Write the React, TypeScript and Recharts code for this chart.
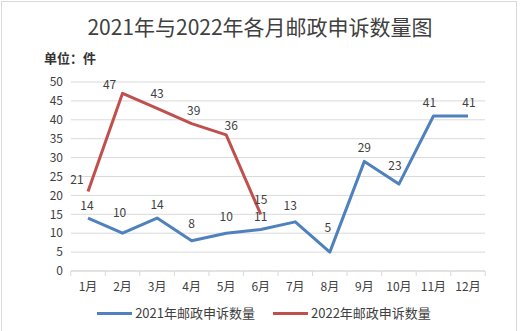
import { CartesianGrid, LabelList, Legend, Line, LineChart, XAxis, YAxis } from "recharts";

const months = ["1月", "2月", "3月", "4月", "5月", "6月", "7月", "8月", "9月", "10月", "11月", "12月"];
const complaints2021 = [14, 10, 14, 8, 10, 11, 13, 5, 29, 23, 41, 41];
const complaints2022 = [21, 47, 43, 39, 36, 15];
const yTicks = [0, 5, 10, 15, 20, 25, 30, 35, 40, 45, 50];

const title = "2021年与2022年各月邮政申诉数量图";
const unitLabel = "单位：件";
const name2021 = "2021年邮政申诉数量";
const name2022 = "2022年邮政申诉数量";

const BLUE = "#4f81bd";
const RED = "#c0504d";
const GRID = "#d9d9d9";
const FONT = '"Noto Sans CJK SC", "Noto Sans", sans-serif';

// label nudges (dx, and how far the label centre sits above the point)
const dx2021 = [-1, -3, 0, 0, 0, 0, -5, -2, 0, -4, -4, 1];
const lift2021 = [12, 20, 13, 17, 16, 12, 16, 24, 13, 18, 13, 13];
const dx2022 = [-11, -13, 0, 2, 5, 0];
const lift2022 = [12, 8, 14, 13, 9, 14];

const data = months.map((m, i) => ({
  month: m,
  y2021: complaints2021[i],
  y2022: i < complaints2022.length ? complaints2022[i] : null,
}));

const BAND = 34.5;

const XTick = (props: any) => {
  const { x, y, payload, index } = props;
  const h = BAND / 2;
  return (
    <g>
      <line x1={x - h} x2={x - h} y1={y - 8} y2={y - 3} stroke={GRID} />
      {index === months.length - 1 && (
        <line x1={x + h} x2={x + h} y1={y - 8} y2={y - 3} stroke={GRID} />
      )}
      <text x={x} y={y + 12} textAnchor="middle" fontSize={12} fill="#404040">
        {payload.value}
      </text>
    </g>
  );
};

const makeLabel = (dxs: number[], lifts: number[]) => (props: any) => {
  const { x, y, value, index } = props;
  if (value == null) return null;
  return (
    <text
      x={x + (dxs[index] || 0)}
      y={y - (lifts[index] || 12) + 4}
      textAnchor="middle"
      fontSize={12}
      fill="#404040"
    >
      {value}
    </text>
  );
};

const renderLegend = () => (
  <div
    style={{
      display: "flex",
      justifyContent: "center",
      gap: 18,
      fontSize: 13,
      lineHeight: "20px",
      height: 20,
      color: "#404040",
      paddingLeft: 8,
    }}
  >
    {[
      { name: name2021, color: BLUE },
      { name: name2022, color: RED },
    ].map((it) => (
      <div key={it.name} style={{ display: "flex", alignItems: "center" }}>
        <span style={{ width: 35, height: 3, background: it.color, marginRight: 3 }} />
        {it.name}
      </div>
    ))}
  </div>
);

export default function App() {
  return (
    <div
      style={{
        position: "absolute",
        left: 0,
        top: 0,
        width: 520,
        height: 331,
        overflow: "hidden",
        background: "#fff",
        fontFamily: FONT,
      }}
    >
      <div
        style={{
          position: "absolute",
          left: 1,
          top: 1,
          width: 514,
          height: 340,
          border: `1px solid ${GRID}`,
        }}
      />
      <div
        style={{
          position: "absolute",
          top: 11,
          left: 0,
          width: 520,
          textAlign: "center",
          fontSize: 21,
          lineHeight: "30px",
          color: "#404040",
        }}
      >
        {title}
      </div>
      <div
        style={{
          position: "absolute",
          top: 48,
          left: 44,
          fontSize: 13,
          lineHeight: "20px",
          fontWeight: "bold",
          color: "#333",
        }}
      >
        {unitLabel}
      </div>
      <LineChart
        width={520}
        height={331}
        data={data}
        margin={{ top: 82, right: 35, left: 0, bottom: 8 }}
      >
        <CartesianGrid vertical={false} stroke={GRID} />
        <XAxis
          dataKey="month"
          height={32}
          padding={{ left: 17, right: 17 }}
          axisLine={{ stroke: GRID }}
          tickLine={false}
          interval={0}
          tick={<XTick />}
        />
        <YAxis
          width={71}
          domain={[0, 50]}
          ticks={yTicks}
          interval={0}
          axisLine={false}
          tickLine={false}
          tick={{ fontSize: 12, fill: "#404040" }}
        />
        <Legend
          verticalAlign="bottom"
          content={renderLegend}
          wrapperStyle={{ left: 0, width: 520 }}
        />
        <Line
          dataKey="y2021"
          name={name2021}
          stroke={BLUE}
          strokeWidth={3}
          dot={false}
          activeDot={false}
          strokeLinejoin="round"
          isAnimationActive={false}
        >
          <LabelList dataKey="y2021" content={makeLabel(dx2021, lift2021)} />
        </Line>
        <Line
          dataKey="y2022"
          name={name2022}
          stroke={RED}
          strokeWidth={3}
          dot={false}
          activeDot={false}
          strokeLinejoin="round"
          isAnimationActive={false}
        >
          <LabelList dataKey="y2022" content={makeLabel(dx2022, lift2022)} />
        </Line>
      </LineChart>
    </div>
  );
}
